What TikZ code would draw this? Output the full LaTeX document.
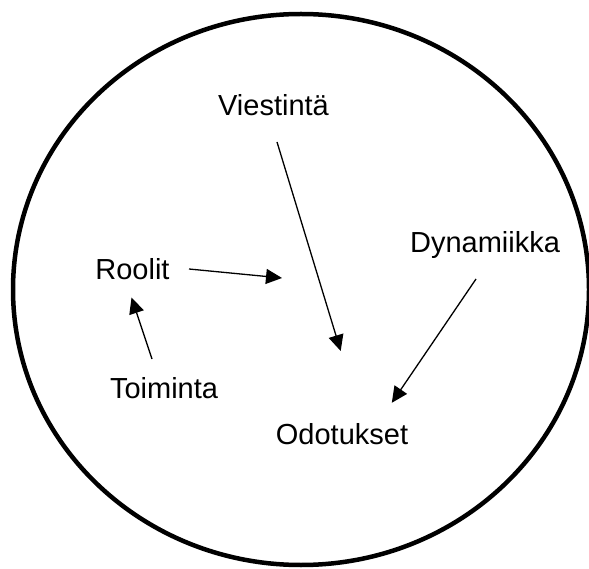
\documentclass[tikz,border=0pt]{standalone}
\usepackage{fontspec}
\setmainfont{Liberation Sans}
\usetikzlibrary{arrows.meta}
\tikzset{
  % Word labels
  lbl/.style={font=\fontsize{29}{33}\selectfont,anchor=base,inner sep=0pt},
  % Thin black arrows
  Arr/.style={-{Triangle[length=16pt,width=15pt]},line width=1.3pt,color=black},
  % Big outer ring
  ring/.style={draw=black,line width=4.5pt},
}
\begin{document}
\begin{tikzpicture}[x=1pt,y=-1pt]
      \useasboundingbox (0,0) rectangle (589,569);
      \clip (0,0) rectangle (589,569);
      % Outer ring
      \draw[ring] (301,289.5) ellipse [x radius=288,y radius=275.5];
      % Labels
      \node[lbl] (vies) at (273.5,116) {Viestintä};
      \node[lbl] (rool) at (132.5,280) {Roolit};
      \node[lbl] (dyna) at (485,253) {Dynamiikka};
      \node[lbl] (toim) at (164,398) {Toiminta};
      \node[lbl] (odot) at (342,444) {Odotukset};
      % Arrow ends
      \coordinate (viesS) at (277,142);
      \coordinate (viesE) at (340.7,351);
      \coordinate (roolS) at (189,269);
      \coordinate (roolE) at (282,278);
      \coordinate (toimS) at (152,359);
      \coordinate (toimE) at (131.5,297.5);
      \coordinate (dynaS) at (476,279);
      \coordinate (dynaE) at (391.8,402.8);
      % Arrows
      \draw[Arr] (viesS) -- (viesE);
      \draw[Arr] (roolS) -- (roolE);
      \draw[Arr] (toimS) -- (toimE);
      \draw[Arr] (dynaS) -- (dynaE);
\end{tikzpicture}
\end{document}
